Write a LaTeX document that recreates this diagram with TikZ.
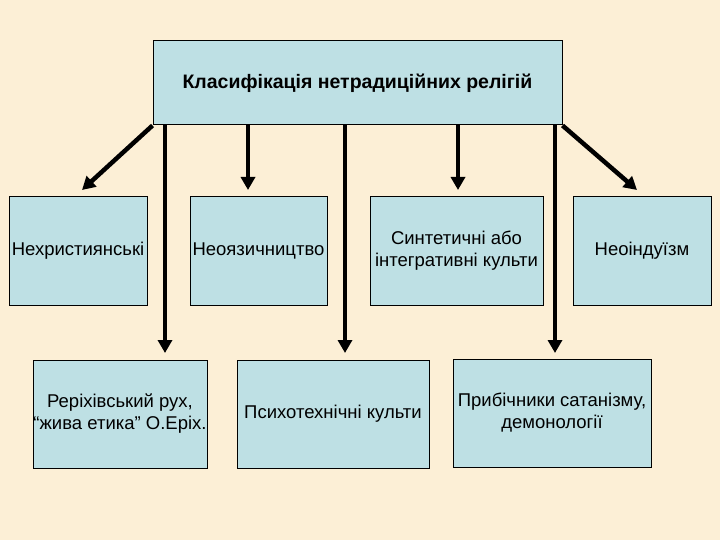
\documentclass[tikz,border=0pt]{standalone}
\usepackage{fontspec}
\setmainfont{Liberation Sans}
\usetikzlibrary{arrows.meta}
\usetikzlibrary{positioning}
\definecolor{paper}{RGB}{252, 239, 214}
\definecolor{boxblue}{RGB}{190, 224, 228}
\tikzset{
  every node/.style={font=\fontsize{18.5}{22}\selectfont},
  box/.style={draw=black, fill=boxblue, line width=1pt, align=center,
    inner sep=0pt},
  arrow/.style={-{Triangle[width=14pt,length=13pt]}, line width=4.5pt}
}

\begin{document}
\begin{tikzpicture}[x=1pt,y=-1pt]
  \fill[paper] (0,0) rectangle (720,540);
  \useasboundingbox (0,0) rectangle (720,540);

  % top
  \node[box, minimum width=409pt, minimum height=84pt,
    font=\fontsize{19.5}{22}\selectfont\bfseries] (classif) at (357.5,83)
    {Класифікація нетрадиційних релігій};

  % first row
  \node[box, minimum width=138pt, minimum height=108pt] (nonchrist) at (78,251)
    {Нехристиянські};
  \node[box, minimum width=137pt, minimum height=108pt] (neopagan) at (258.5,251)
    {Неоязичництво};
  \node[box, minimum width=173pt, minimum height=108pt] (synth) at (456.5,251)
    {Синтетичні або\\інтегративні культи};
  \node[box, minimum width=138pt, minimum height=108pt] (neohindu) at (642,251)
    {Неоіндуїзм};

  % second row
  \node[box, minimum width=174pt, minimum height=108pt] (roerich) at (120,414)
    {Реріхівський рух,\\“жива етика” О.Еріх.};
  \node[box, minimum width=192pt, minimum height=108pt] (psycho) at (333,414)
    {Психотехнічні культи};
  \node[box, minimum width=198pt, minimum height=108pt] (satan) at (552,413)
    {Прибічники сатанізму,\\демонології};

  % arrow tips
  \coordinate (t1) at (82,190);
  \coordinate (t2) at (248,190);
  \coordinate (t3) at (458,190);
  \coordinate (t4) at (637,190);
  \coordinate (t5) at (165,353);
  \coordinate (t6) at (345,353);
  \coordinate (t7) at (555,353);

  \draw[arrow] (classif.south west) -- (t1);
  \draw[arrow] (classif.south -| t2) -- (t2);
  \draw[arrow] (classif.south -| t3) -- (t3);
  \draw[arrow] (classif.south east) -- (t4);
  \draw[arrow] (classif.south -| t5) -- (t5);
  \draw[arrow] (classif.south -| t6) -- (t6);
  \draw[arrow] (classif.south -| t7) -- (t7);
\end{tikzpicture}
\end{document}
